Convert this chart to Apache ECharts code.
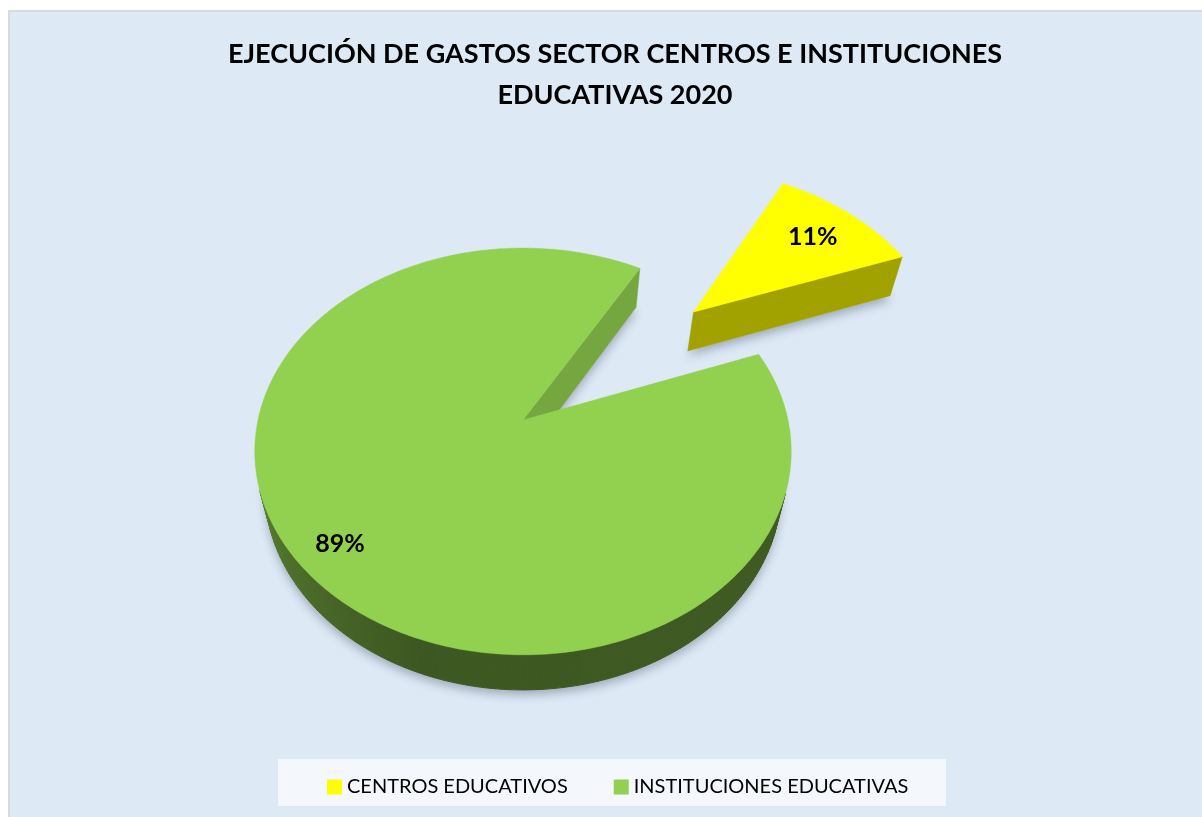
<!DOCTYPE html>
<html><head><meta charset="utf-8">
<script src="https://cdn.jsdelivr.net/npm/echarts@6/dist/echarts.min.js"></script>
<style>html,body{margin:0;padding:0;background:#fff}#c{width:1202px;height:817px}</style>
</head><body><div id="c"></div><script>
// ---- data ----
const categories = ['CENTROS EDUCATIVOS', 'INSTITUCIONES EDUCATIVAS'];
const values = [11, 89];
const titleLines = ['EJECUCIÓN DE GASTOS SECTOR CENTROS E INSTITUCIONES', 'EDUCATIVAS 2020'];

// ---- style ----
const colors = ['#ffff00', '#92d050'];
const explodes = [0.92, 0];
const sideShade = [0.63, 0.8];
const labelTweak = [{da: 0, r: 0.75}, {da: -2, r: 0.85}];
const G = {cx: 523, cy: 420, F: 1150, D: 4.34, sinE: 0.741, cosE: 0.671, depth: 0.222, start: 30};
const wallTable = [[0,0.45],[90,0.44],[200,0.42],[240,0.55],[270,0.7],[360,0.45]];

function proj(u, v, h) {
  const zc = G.D + v * G.cosE - h * G.sinE;
  const yc = v * G.sinE + h * G.cosE;
  return [G.cx + G.F * u / zc, G.cy - (G.F * 1.011) * yc / zc];
}
function hexRgb(h){ h=h.replace('#',''); return [0,2,4].map(i=>parseInt(h.substr(i,2),16)); }
function shade(hex, f){ const c=hexRgb(hex).map(x=>Math.max(0,Math.min(255,Math.round(x*f)))); return 'rgb('+c.join(',')+')'; }
function wallF(t){ t=((t%360)+360)%360; for(let i=0;i<wallTable.length-1;i++){const a=wallTable[i],b=wallTable[i+1]; if(t>=a[0]&&t<=b[0]){return a[1]+(b[1]-a[1])*(t-a[0])/(b[0]-a[0]);}} return 0.45; }
function area(p){ let s=0; for(let i=0;i<p.length;i++){const a=p[i],b=p[(i+1)%p.length]; s+=a[0]*b[1]-b[0]*a[1];} return s; }
const rad = d => d * Math.PI / 180;

const total = values.reduce((a, b) => a + b, 0);

function renderSlice(idx) {
  return function (params, api) {
    const val = api.value(0);
    let cum = 0; for (let i = 0; i < idx; i++) cum += values[i];
    const a0 = G.start + 360 * cum / total;
    const a1 = a0 + 360 * val / total;
    const mid = (a0 + a1) / 2;
    const ou = explodes[idx] * Math.sin(rad(mid)), ov = explodes[idx] * Math.cos(rad(mid));
    const P = (r, t, h) => proj(ou + r * Math.sin(rad(t)), ov + r * Math.cos(rad(t)), h);
    const d = -G.depth;
    const base = colors[idx];
    const steps = Math.max(4, Math.ceil((a1 - a0) / 1));
    const angs = []; for (let k = 0; k <= steps; k++) angs.push(a0 + (a1 - a0) * k / steps);
    const children = [];
    // shadow
    const bottom = [P(0, 0, d)].concat(angs.map(t => P(1, t, d)));
    children.push({type:'polygon', shape:{points: bottom}, style:{fill:'#dde9f5', shadowBlur: 10, shadowColor:'rgba(50,60,80,0.35)', shadowOffsetY: 5}});
    // walls
    for (let k = 0; k < steps; k++) {
      const q = [P(1, angs[k], 0), P(1, angs[k+1], 0), P(1, angs[k+1], d), P(1, angs[k], d)];
      if (area(q) < 0) {
        const c = shade(base, wallF((angs[k] + angs[k+1]) / 2));
        children.push({type:'polygon', shape:{points:q}, style:{fill:c, stroke:c, lineWidth:1}});
      }
    }
    // radial faces
    const fs = [P(0,0,0), P(1,a0,0), P(1,a0,d), P(0,0,d)];
    const fe = [P(0,0,0), P(0,0,d), P(1,a1,d), P(1,a1,0)];
    [fs, fe].forEach(f => { if (area(f) < 0) { const c = shade(base, sideShade[idx]); children.push({type:'polygon', shape:{points:f}, style:{fill:c, stroke:c, lineWidth:0.5}}); } });
    // top
    const top = [P(0, 0, 0)].concat(angs.map(t => P(1, t, 0)));
    children.push({type:'polygon', shape:{points: top}, style:{fill: base, stroke: base, lineWidth: 0.5}});
    // label
    const la = mid + labelTweak[idx].da;
    const lp = P(labelTweak[idx].r, la, 0);
    children.push({type:'text', x: lp[0], y: lp[1], z2: 10, style:{text: Math.round(val / total * 100) + '%', fontSize: 25, fontWeight:'bold', fontFamily:'Lato', fill:'#000', align:'center', verticalAlign:'middle'}});
    return {type:'group', children};
  };
}

const chart = echarts.init(document.getElementById('c'));
chart.setOption({
  animation: false,
  backgroundColor: '#ffffff',
  graphic: [
    {type:'rect', z: -10, shape:{x: 9, y: 11, width: 1200, height: 810}, style:{fill:'#dde9f5', stroke:'#d9d9d9', lineWidth: 2}},
    {type:'rect', z: -9, shape:{x: 278, y: 759, width: 668, height: 47}, style:{fill:'#f4f8fc'}}
  ],
  title: {
    text: titleLines.join('\n'), left: 610, top: 29, textAlign: 'center',
    textStyle: {fontFamily: 'Lato', fontWeight: 'bold', fontSize: 27, lineHeight: 41, color: '#000'}
  },
  legend: {
    data: categories, left: 322, top: 772, icon: 'rect', itemWidth: 15, itemHeight: 15, itemGap: 46,
    textStyle: {fontFamily: 'Lato', fontSize: 20, color: '#000'}
  },
  series: categories.map((name, i) => ({
    type: 'custom', name: name, coordinateSystem: 'none', silent: true,
    itemStyle: {color: colors[i]},
    renderItem: renderSlice(i),
    data: [[values[i]]]
  }))
});
</script></body></html>
